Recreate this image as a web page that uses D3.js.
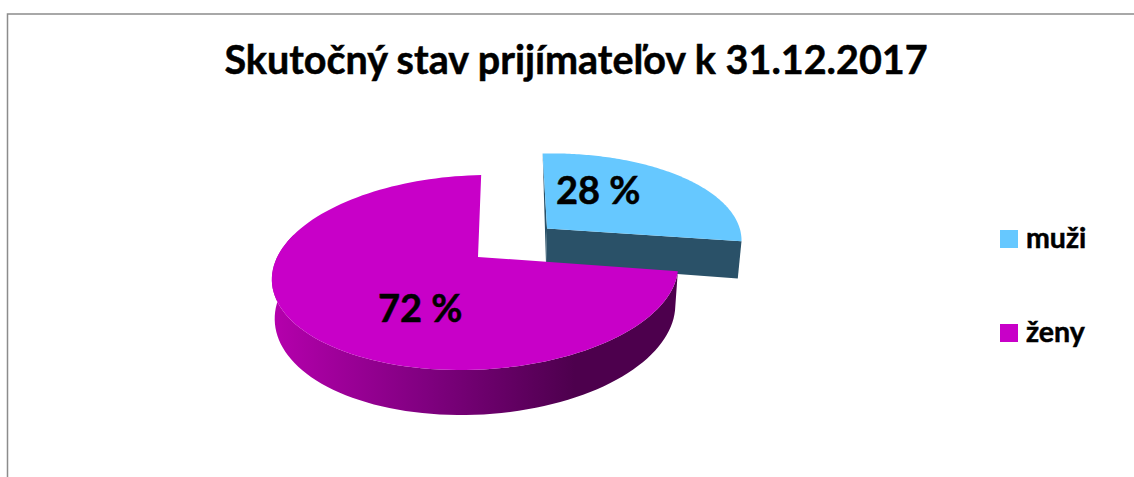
<!DOCTYPE html>
<html>
<head>
<meta charset="utf-8">
<style>
  html, body { margin: 0; padding: 0; background: #fff; }
  svg { display: block; }
  text { font-family: Lato, "Open Sans", sans-serif; font-weight: 700; fill: #000; stroke: #000; stroke-width: 0.5; }
</style>
</head>
<body>
<div id="chart"></div>

<script src="https://cdnjs.cloudflare.com/ajax/libs/d3/7.8.5/d3.min.js"></script>
<script>
  // Chart data
  const chartTitle = "Skutočný stav prijímateľov k 31.12.2017";
  const categories = ["muži", "ženy"];
  const values = [28, 72];
  const valueLabels = ["28 %", "72 %"];
  const topColors = ["#66c8ff", "#c800c8"];

  const width = 1134;
  const height = 477;

  // Flat pie position, then a perspective projection onto the page
  const apexX = 476, apexY = 257;
  const radiusX = 200.5, radiusY = 95;
  const tilt = 0.159, shearX = -6, shearY = -4;
  const explode = 0.47;

  const project = ([u, v]) => {
    const w = 1 - tilt * v;
    return [apexX + (radiusX * u + shearX * v) / w, apexY + (radiusY * v + shearY * u) / w];
  };
  // same point on the lower face of the pie
  const lower = ([u, v]) => {
    const [x, y] = project([u, v]);
    return [apexX + (x - apexX) * 0.986, y + 38 + 7 * v];
  };

  const color = d3.scaleOrdinal().domain(categories).range(topColors);
  const arcs = d3.pie().sort(null)(values);
  const line = d3.line();

  const svg = d3.select("#chart").append("svg")
    .attr("width", width)
    .attr("height", height);

  const defs = svg.append("defs");
  const sideGradient = defs.append("linearGradient")
    .attr("id", "side")
    .attr("gradientUnits", "userSpaceOnUse")
    .attr("x1", 275).attr("x2", 575).attr("y1", 0).attr("y2", 0);
  sideGradient.append("stop").attr("offset", 0).attr("stop-color", "#b400ac");
  sideGradient.append("stop").attr("offset", 0.5).attr("stop-color", "#800080");
  sideGradient.append("stop").attr("offset", 1).attr("stop-color", "#4d004d");

  // Frame, only top and left edges are in the crop
  svg.append("path")
    .attr("d", line([[7.5, height], [7.5, 14], [width, 14]]))
    .attr("fill", "none")
    .attr("stroke", "#8c8c8c")
    .attr("stroke-width", 1.5);

  svg.append("text")
    .attr("x", 576)
    .attr("y", 74)
    .attr("text-anchor", "middle")
    .attr("font-size", 39.5)
    .text(chartTitle);

  // Rim points of a slice in flat pie coordinates
  const rimPoints = (d, offset) => d3.range(0, 121).map(i => {
    const a = d.startAngle + (d.endAngle - d.startAngle) * i / 120;
    return [offset[0] + Math.sin(a), offset[1] - Math.cos(a)];
  });

  const offsets = arcs.map((d, i) => {
    if (i !== 0) return [0.01, 0];
    const mid = (d.startAngle + d.endAngle) / 2;
    return [explode * Math.sin(mid), -explode * Math.cos(mid)];
  });

  // Sides first, tops over them. Exploded slice sits behind.
  const slices = svg.append("g");

  // muži: cut faces
  const rimA = rimPoints(arcs[0], offsets[0]);
  const tip = rimA[rimA.length - 1], corner = rimA[0], centerA = offsets[0];
  slices.append("path")
    .attr("d", line([project(centerA), project(tip), lower(tip), lower(centerA)]) + "Z")
    .attr("fill", "#2a5168");
  slices.append("path")
    .attr("d", line([project(corner), project(centerA), lower(centerA)]) + "Z")
    .attr("fill", "#2a5168");
  slices.append("path")
    .attr("d", line([project(centerA), ...rimA.map(project)]) + "Z")
    .attr("fill", color(categories[0]));

  // ženy: outer wall with gradient
  const rimB = rimPoints(arcs[1], [0, 0]);
  const visibleB = rimB.filter(p => p[1] > -0.3);
  slices.append("path")
    .attr("d", line([...visibleB.map(project), ...visibleB.map(lower).reverse()]) + "Z")
    .attr("fill", "url(#side)");
  slices.append("path")
    .attr("d", line([project(offsets[1]), ...rimB.map(project)]) + "Z")
    .attr("fill", color(categories[1]));

  // Value labels
  svg.append("g").selectAll("text")
    .data(valueLabels)
    .join("text")
    .attr("x", (d, i) => [556, 378][i])
    .attr("y", (d, i) => [204, 322][i])
    .attr("font-size", 38)
    .text(d => d);

  // Legend
  const legendY = d3.scalePoint().domain(categories).range([239, 333]);
  const legend = svg.append("g").selectAll("g")
    .data(categories)
    .join("g")
    .attr("transform", d => `translate(1000,${legendY(d)})`);
  legend.append("rect")
    .attr("y", -9)
    .attr("width", 18)
    .attr("height", 18)
    .attr("fill", d => color(d));
  legend.append("text")
    .attr("x", 26)
    .attr("y", 9)
    .attr("font-size", 28.5)
    .text(d => d);
</script>
</body>
</html>
